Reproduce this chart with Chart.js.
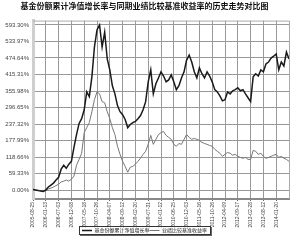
<!DOCTYPE html>
<html>
<head>
<meta charset="utf-8">
<script src="https://cdn.jsdelivr.net/npm/chart.js@4"></script>
<style>
  html, body { margin: 0; padding: 0; background: #fff; }
  #wrap { width: 300px; height: 240px; }
</style>
</head>
<body>
<div id="wrap"><canvas id="chart"></canvas></div>
<script>
// Date labels shown under the x axis (one every 5 samples)
const xTickLabels = ['2005-08-25', '2006-01-13', '2006-07-03', '2006-12-08', '2007-05-18',
  '2007-10-26', '2008-04-07', '2008-09-12', '2009-02-20', '2009-07-31',
  '2010-01-12', '2010-06-25', '2010-12-03', '2011-05-16', '2011-10-26',
  '2012-04-09', '2012-09-17', '2013-02-28', '2013-08-12', '2014-01-20'];

const yTickValues = [0, 59.33, 118.66, 177.99, 237.32, 296.65, 355.98, 415.31, 474.64, 533.97, 593.30];

const seriesNames = ['基金份额累计净值增长率', '业绩比较基准收益率'];

// cumulative NAV growth (%)
const navGrowth = [3, 1, -1, -2, -4, 1, 12, 19, 26, 37,
  47, 76, 90, 79, 94, 104, 154, 200, 240, 257,
  289, 353, 336, 407, 514, 575, 593, 514, 567, 471,
  432, 375, 346, 304, 282, 271, 254, 225, 236, 243,
  247, 257, 268, 289, 318, 389, 432, 346, 382, 403,
  425, 410, 389, 396, 414, 389, 361, 375, 403, 425,
  467, 485, 460, 425, 403, 439, 418, 403, 425, 410,
  389, 361, 353, 339, 321, 325, 353, 346, 357, 361,
  368, 357, 361, 346, 332, 318, 407, 418, 410, 432,
  425, 453, 460, 474, 481, 489, 432, 460, 446, 496, 471];

// benchmark return (%)
const benchmark = [3, 1, 1, -1, -1, 1, 5, 8, 12, 17,
  22, 30, 33, 37, 33, 40, 51, 90, 111, 133,
  207, 225, 243, 282, 325, 353, 346, 318, 314, 282,
  257, 225, 200, 158, 129, 104, 86, 65, 83, 86,
  94, 104, 115, 129, 140, 165, 197, 165, 183, 200,
  207, 211, 197, 190, 183, 165, 158, 168, 165, 183,
  200, 190, 183, 186, 183, 179, 172, 168, 165, 161,
  158, 147, 140, 133, 122, 129, 136, 133, 126, 129,
  122, 118, 115, 118, 111, 111, 143, 140, 129, 133,
  122, 115, 118, 122, 126, 129, 118, 122, 115, 111, 104];

const tickFont = { family: 'Liberation Sans, Arial, sans-serif', size: 6 };

// frame round the plot and box round the legend
const framePlugin = {
  id: 'frame',
  afterDraw(chart) {
    const ctx = chart.ctx;
    const a = chart.chartArea;
    ctx.save();
    ctx.strokeStyle = '#aaa';
    ctx.lineWidth = 1;
    ctx.beginPath();
    ctx.moveTo(a.left, a.top + 0.5);
    ctx.lineTo(a.right + 0.5, a.top + 0.5);
    ctx.lineTo(a.right + 0.5, a.bottom);
    ctx.stroke();

    const boxes = chart.legend.legendHitBoxes;
    if (boxes && boxes.length) {
      let l = Infinity, r = -Infinity, t = Infinity, b = -Infinity;
      boxes.forEach(h => {
        l = Math.min(l, h.left); r = Math.max(r, h.left + h.width);
        t = Math.min(t, h.top); b = Math.max(b, h.top + h.height);
      });
      ctx.strokeStyle = '#333';
      ctx.strokeRect(Math.round(l - 3) + 0.5, Math.round(t - 2) + 0.5, Math.round(r - l + 6), Math.round(b - t + 3));
      ctx.fillStyle = '#666';
      ctx.fillRect(Math.round(r + 4), Math.round(t - 1), 1, Math.round(b - t + 4));
      ctx.fillRect(Math.round(l - 2), Math.round(b + 2), Math.round(r - l + 7), 1);
    }
    ctx.restore();
  }
};

new Chart(document.getElementById('chart'), {
  type: 'line',
  data: {
    datasets: [
      {
        label: seriesNames[0],
        data: navGrowth.map((v, i) => ({ x: i, y: v })),
        borderColor: '#1a1a1a',
        backgroundColor: '#1a1a1a',
        borderWidth: 1.5,
        pointRadius: 0,
        tension: 0
      },
      {
        label: seriesNames[1],
        data: benchmark.map((v, i) => ({ x: i, y: v })),
        borderColor: '#777',
        backgroundColor: '#777',
        borderWidth: 1,
        pointRadius: 0,
        tension: 0
      }
    ]
  },
  options: {
    responsive: true,
    maintainAspectRatio: false,
    animation: false,
    layout: { padding: { left: 0, right: 11, top: 0, bottom: 0 } },
    plugins: {
      title: {
        display: true,
        text: '基金份额累计净值增长率与同期业绩比较基准收益率的历史走势对比图',
        color: '#111',
        font: { family: 'Noto Sans CJK SC', size: 8, weight: 'bold' },
        padding: { top: 1, bottom: 10 }
      },
      legend: {
        position: 'bottom',
        maxHeight: 12,
        labels: {
          color: '#222',
          font: { family: 'Noto Sans CJK SC', size: 5 },
          usePointStyle: true,
          pointStyle: 'line',
          pointStyleWidth: 10,
          boxHeight: 4,
          padding: 0
        }
      },
      tooltip: { enabled: false }
    },
    scales: {
      x: {
        type: 'linear',
        min: 0,
        max: navGrowth.length - 1,
        afterBuildTicks(scale) {
          scale.ticks = xTickLabels.map((_, i) => ({ value: i * 5 }));
        },
        afterFit(scale) { scale.height = 29; },
        ticks: {
          autoSkip: false,
          minRotation: 90,
          maxRotation: 90,
          padding: 1,
          color: '#444',
          font: { family: 'Liberation Sans, Arial, sans-serif', size: 5 },
          callback: v => xTickLabels[v / 5]
        },
        grid: {
          color: '#999',
          borderDash: [1, 2],
          tickLength: 2,
          tickColor: '#666',
          tickBorderDash: []
        },
        border: { color: '#888', width: 2 }
      },
      y: {
        min: -31,
        max: 608.6,
        afterBuildTicks(scale) {
          scale.ticks = yTickValues.map(v => ({ value: v }));
        },
        afterFit(scale) { scale.width = 33; },
        ticks: {
          color: '#444',
          font: tickFont,
          padding: 4,
          callback: v => v.toFixed(2) + '%'
        },
        grid: {
          color: '#999',
          borderDash: [1, 2],
          drawTicks: false
        },
        border: { color: '#cfcfcf', width: 3 }
      }
    }
  },
  plugins: [framePlugin]
});
</script>
</body>
</html>
